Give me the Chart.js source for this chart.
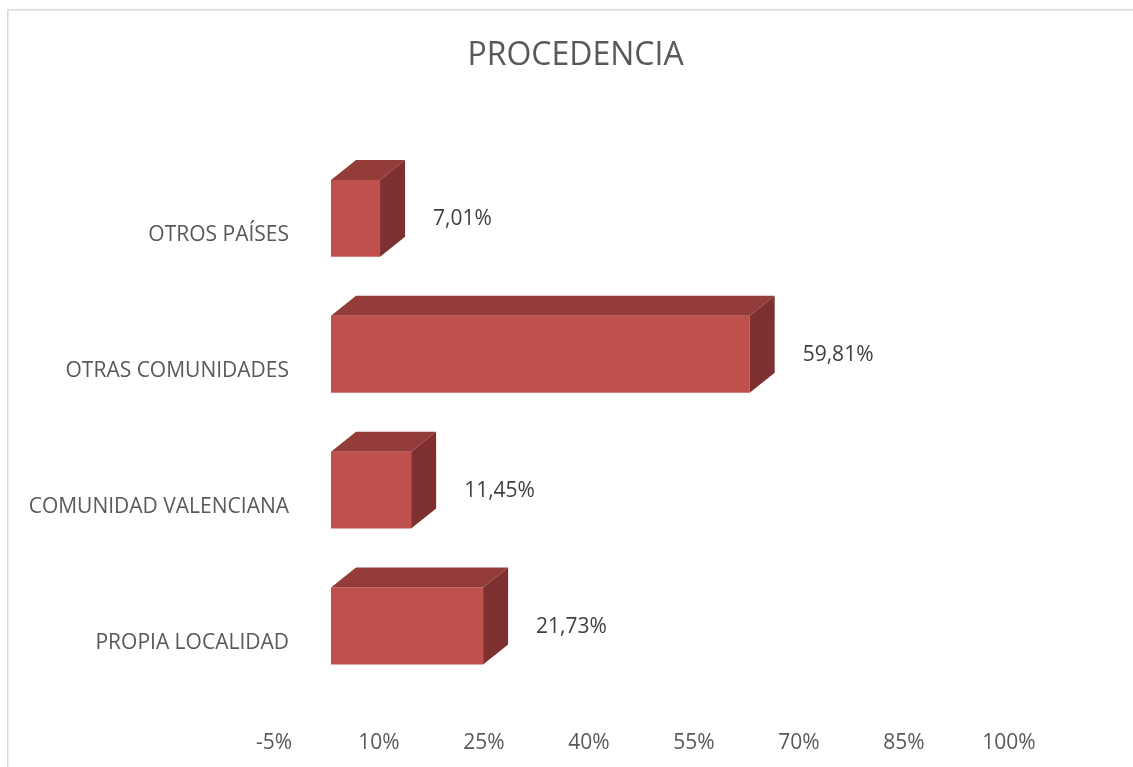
<!DOCTYPE html>
<html><head><meta charset="utf-8">
<script src="https://cdn.jsdelivr.net/npm/chart.js@4.4.0/dist/chart.umd.min.js"></script>
<style>html,body{margin:0;padding:0;background:#fff;}#wrap{width:1133px;height:767px;position:relative;}</style>
</head><body><div id="wrap"><canvas id="c" width="1133" height="767"></canvas></div>
<script>
const categories = ["PROPIA LOCALIDAD", "COMUNIDAD VALENCIANA", "OTRAS COMUNIDADES", "OTROS PAÍSES"];
const values = [21.73, 11.45, 59.81, 7.01];
const tickMin = -5, tickMax = 100, tickStep = 15;
const titleText = "PROCEDENCIA";

const FONT = "'Open Sans', sans-serif";
const depthX = 25, depthY = 20;

const threeD = {
  id: 'threeD',
  beforeDraw(chart) {
    const ctx = chart.ctx;
    ctx.save();
    ctx.strokeStyle = '#d9d9d9';
    ctx.lineWidth = 1.5;
    ctx.strokeRect(7.75, 9.75, 2000, 2000);
    ctx.restore();
  },
  afterDatasetsDraw(chart) {
    const ctx = chart.ctx;
    const meta = chart.getDatasetMeta(0);
    ctx.save();
    meta.data.forEach((bar, i) => {
      const p = bar.getProps(['x', 'y', 'base', 'height'], true);
      const x0 = p.base, x1 = p.x, top = p.y - p.height / 2, bot = p.y + p.height / 2;
      ctx.fillStyle = '#943c3a';
      ctx.beginPath();
      ctx.moveTo(x0, top); ctx.lineTo(x0 + depthX, top - depthY);
      ctx.lineTo(x1 + depthX, top - depthY); ctx.lineTo(x1, top); ctx.closePath(); ctx.fill();
      ctx.fillStyle = '#7d302f';
      ctx.beginPath();
      ctx.moveTo(x1, top); ctx.lineTo(x1 + depthX, top - depthY);
      ctx.lineTo(x1 + depthX, bot - depthY); ctx.lineTo(x1, bot); ctx.closePath(); ctx.fill();
      const v = values[i];
      ctx.fillStyle = '#404040';
      ctx.font = "21px " + FONT;
      ctx.textAlign = 'left'; ctx.textBaseline = 'middle';
      ctx.fillText(v.toFixed(2).replace('.', ',') + '%', x1 + depthX + 28, p.y + 1);
    });
    ctx.restore();
  }
};

new Chart(document.getElementById('c'), {
  type: 'bar',
  data: {
    labels: categories,
    datasets: [{ data: values, backgroundColor: '#c0504d', borderWidth: 0, barPercentage: 0.566, categoryPercentage: 1 }]
  },
  options: {
    indexAxis: 'y',
    responsive: false,
    animation: false,
    layout: { padding: { left: 18, right: 0, top: 0, bottom: 0 } },
    plugins: {
      legend: { display: false },
      tooltip: { enabled: false },
      title: { display: true, text: titleText, color: '#595959', font: { family: FONT, size: 32, weight: 'normal' }, padding: { top: 37, bottom: 75 } }
    },
    scales: {
      x: {
        min: tickMin, max: tickMax,
        grid: { display: false, drawTicks: false },
        border: { display: false },
        ticks: { stepSize: tickStep, color: '#595959', font: { family: FONT, size: 21 }, padding: 36, labelOffset: -22,
          callback: v => v + '%' },
        afterFit(s) { s.height = 73; }
      },
      y: {
        reverse: true,
        grid: { display: false, drawTicks: false },
        border: { display: false },
        ticks: { color: '#595959', font: { family: FONT, size: 21 }, padding: 7, labelOffset: 17 },
        afterFit(s) { s.width = 278; }
      },
      yRight: {
        type: 'category',
        position: 'right',
        grid: { display: false, drawTicks: false },
        border: { display: false },
        ticks: { display: false },
        afterFit(s) { s.width = 102; }
      }
    }
  },
  plugins: [threeD]
});
</script></body></html>
